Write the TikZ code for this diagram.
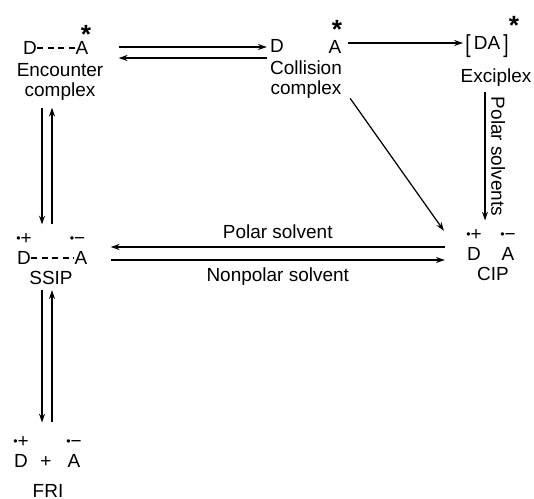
\documentclass[tikz,border=0pt]{standalone}
\usepackage{fontspec}
\setmainfont{Liberation Sans}
\usetikzlibrary{arrows.meta,positioning,calc}

\newcommand{\rad}{\raisebox{1.3pt}{\fontsize{7}{7}\selectfont •}}
\newcommand{\tallbr}[1]{\raisebox{-1.2pt}{\scalebox{1}[1.3]{#1}}}

\tikzset{
  every node/.style={inner sep=0pt, font=\fontsize{10.8}{11.4}\selectfont},
  arr/.style={-{Stealth[length=5pt,width=3.4pt]}, line width=0.9pt},
  bond/.style={line width=0.8pt, dash pattern=on 3.4pt off 2.6pt},
  lbl/.style={align=center, anchor=north},
  excited/.style={font=\fontsize{15}{15}\selectfont\bfseries},
  pol/.style={midway, rotate=-90, anchor=south, inner ysep=3pt},
}

\begin{document}
\begin{tikzpicture}[x=0.02cm, y=-0.02cm]
\useasboundingbox (0,0) rectangle (534,499);

% Encounter complex
\node (encD) at (30,48) {D};
\node (encA) at (82,48) {A};
\node[excited] (encS) at (86,34) {*};
\node[lbl] (enclbl) at (60,63) {Encounter\\complex};
\draw[bond] (encD) -- (encA);

% Collision complex
\node (colD) at (277,46) {D};
\node (colA) at (335,47) {A};
\node[excited] (colS) at (337,29) {*};
\node[lbl] (collbl) at (306,60) {Collision\\complex};

% Exciplex
\node[anchor=base] (exc) at (487,50) {\tallbr{[}\,DA\,\tallbr{]}};
\node[excited] (excS) at (514,25) {*};
\node[lbl] (exclbl) at (496,68) {Exciplex};

% SSIP
\node (sD) at (24,258) {D};
\node (sA) at (81,258) {A};
\node[above=3.4pt of sD] (sDc) {\rad+};
\node[above=3.4pt of sA, xshift=-2pt] (sAc) {\rad−};
\node[lbl] (slbl) at (51,271) {SSIP};
\draw[bond] (sD) -- (sA);

% CIP
\node (cD) at (474,254) {D};
\node (cA) at (508,254) {A};
\node[above=3.4pt of cD] (cDc) {\rad+};
\node[above=3.4pt of cA] (cAc) {\rad−};
\node[lbl] (clbl) at (493,267) {CIP};

% FRI
\node (fD) at (21,461) {D};
\node[anchor=base] (fplus) at (46,468) {+};
\node (fA) at (74,461) {A};
\node[above=3.4pt of fD] (fDc) {\rad+};
\node[above=3.4pt of fA] (fAc) {\rad−};
\node[lbl] (flbl) at (48,484) {FRI};

% Arrows
\draw[arr] ($(encA.east)+(30,-1)$) -- ($(encA.east -| colD.west)+(-3,-1)$);
\draw[arr] ($(encA.east -| colD.west)+(-3,10)$) -- ($(encA.east)+(30,10)$);
\draw[arr] ($(colA.east)+(6,-4)$) -- ($(colA.east -| exc.west)+(-2,-4)$);
\draw[arr] ($(exclbl.south)+(-11,6)$) -- node[pol] {Polar solvents} ($(exclbl.south |- cDc.north)+(-11,-9)$);
\draw[arr, line width=0.7pt] ($(collbl.south east)+(8,0)$) -- ($(cDc.west)+(-22,-4.5)$);
\draw[arr] ($(sA.east -| cD.west)+(-22,-11)$) -- node[above=4pt] {Polar solvent} ($(sA.east)+(23,-11)$);
\draw[arr] ($(sA.east)+(23,2)$) -- node[below=4pt] {Nonpolar solvent} ($(sA.east -| cD.west)+(-22,2)$);
\draw[arr] ($(enclbl.south)+(-18,7)$) -- ($(enclbl.south |- sDc.north)+(-18,-9)$);
\draw[arr] ($(enclbl.south |- sDc.north)+(-8,-9)$) -- ($(enclbl.south)+(-8,7)$);
\draw[arr] ($(slbl.south)+(-9,5)$) -- ($(slbl.south |- fDc.north)+(-9,-14)$);
\draw[arr] ($(slbl.south |- fDc.north)+(1,-14)$) -- ($(slbl.south)+(1,5)$);
\end{tikzpicture}
\end{document}
